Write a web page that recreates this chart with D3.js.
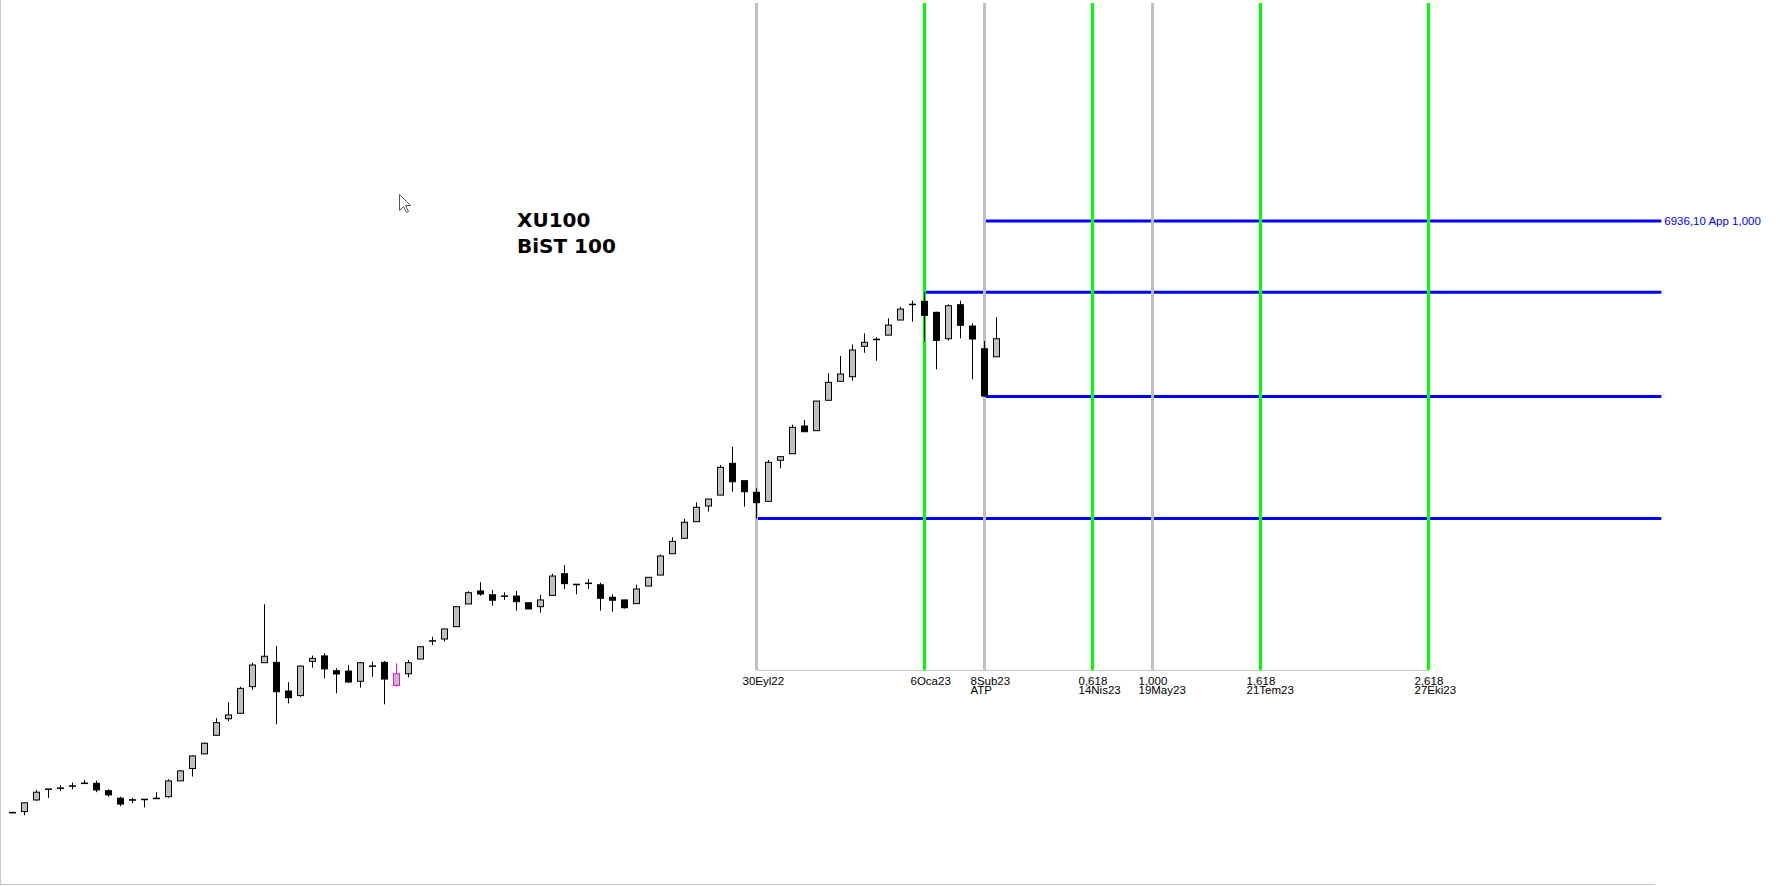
<!DOCTYPE html>
<html>
<head>
<meta charset="utf-8">
<script src="https://d3js.org/d3.v7.min.js"></script>
<style>
  body { margin: 0; background: #fff; }
  svg { display: block; }
</style>
</head>
<body>
<script>
const width = 1780;
const height = 886;

// weekly candles, XU100 (index = week number)
const opens  = [1418,1421,1466,1508,1512,1521,1532,1533,1503,1473,1467,1468,1472,1479,1543,1595,1659,1744,1823,1850,
                1987,2119,2121,1964,1940,2127,2158,2074,2072,2016,2099,2121,1994,2057,2140,2245,2258,2334,2481,2569,
                2543,2533,2534,2489,2463,2539,2691,2615,2621,2612,2526,2508,2483,2603,2681,2839,2959,3094,3227,3323,
                3619,3454,3348,3268,3648,3713,4000,3950,4286,4510,4566,4954,5046,5105,5316,5543,5590,5427,5056,5539,
                5231,4922,4817];
const highs  = [1420,1456,1506,1510,1525,1536,1547,1544,1509,1479,1474,1470,1497,1550,1589,1653,1710,1826,1906,1987,
                2119,2479,2216,2011,2104,2160,2173,2088,2106,2123,2125,2129,2116,2135,2215,2272,2321,2464,2567,2630,
                2576,2560,2569,2491,2543,2691,2754,2617,2653,2627,2546,2509,2612,2667,2832,2967,3119,3259,3290,3602,
                3784,3455,3384,3651,3685,4014,4065,4279,4607,4827,4980,5129,5075,5340,5509,5599,5726,5436,5545,5599,
                5269,5025,5355];
const lows   = [1414,1407,1463,1474,1501,1509,1532,1497,1479,1442,1453,1437,1471,1475,1542,1561,1658,1743,1811,1849,
                1970,2118,1796,1900,1934,2091,2032,1952,2008,1982,2041,1895,1987,2037,2138,2222,2242,2333,2480,2536,
                2470,2508,2437,2447,2424,2538,2583,2546,2583,2437,2430,2450,2482,2602,2680,2838,2958,3093,3178,3322,
                3353,3221,3120,3267,3571,3712,3938,3948,4285,4509,4517,4869,4766,5104,5315,5292,5015,4657,5034,5061,
                4534,4330.1,4816];
const closes = [1417,1455,1497,1510,1514,1523,1534,1506,1486,1450,1465,1469,1473,1543,1585,1650,1707,1804,1842,1978,
                2106,2156,1960,1929,2100,2144,2084,2056,2012,2119,2101,2028,2057,2119,2212,2248,2320,2463,2557,2548,
                2506,2535,2496,2448,2508,2674,2620,2616,2624,2519,2506,2456,2583,2665,2822,2935,3089,3216,3288,3580,
                3444,3353,3256,3629,3684,3986,3939,4277,4497,4599,4905,5007,5049,5245,5475,5547,5383,5034,5524,5241,
                5052,4335,5056];
const highlightBar = 32;

// time markers (week index)
const markerBars  = [62, 76, 81, 90, 95, 104, 118];
const markerKinds = ["gray", "green", "gray", "green", "gray", "green", "green"];
const markerLine1 = ["30Eyl22", "6Oca23", "8Sub23", "0,618", "1,000", "1,618", "2,618"];
const markerLine2 = ["", "", "ATP", "14Nis23", "19May23", "21Tem23", "27Eki23"];

// price levels
const levelValues    = [3120, 5726, 4330.1, 6936.1];
const levelStartBars = [62, 76, 81, 81];
const levelLabels    = ["", "", "", "6936,10 App 1,000"];

const titleLines = ["XU100", "BiST 100"];

const svg = d3.select("body").append("svg")
    .attr("width", width)
    .attr("height", height)
    .style("background", "#fff");

const x = d3.scaleLinear().domain([0, 137.4]).range([12.5, 1661.3]);
const y = d3.scaleLog().domain([1170, 12550]).range([884, 0]);

const baseY = 670;
const lineColor = { gray: "#c0c0c0", green: "#00ff00" };

// frame
svg.append("line").attr("x1", 0.5).attr("x2", 0.5).attr("y1", 0).attr("y2", 884.5)
    .attr("stroke", "#c8c8c8");
svg.append("line").attr("x1", 0).attr("x2", 1655).attr("y1", 884.5).attr("y2", 884.5)
    .attr("stroke", "#c8c8c8");

// blue levels
const levels = levelValues.map((v, i) => ({ v: v, start: levelStartBars[i], label: levelLabels[i] }));
svg.append("g")
  .selectAll("line")
  .data(levels)
  .enter()
  .append("line")
    .attr("x1", d => x(d.start))
    .attr("x2", x.range()[1])
    .attr("y1", d => y(d.v))
    .attr("y2", d => y(d.v))
    .attr("stroke", "#0000ff")
    .attr("stroke-width", 3);

svg.append("g")
  .selectAll("text")
  .data(levels.filter(d => d.label))
  .enter()
  .append("text")
    .attr("x", x.range()[1] + 3)
    .attr("y", d => y(d.v) + 4.5)
    .style("font-family", "'Liberation Sans', Arial, sans-serif")
    .style("font-size", "11.5px")
    .style("fill", "#0000ff")
    .text(d => d.label);

// time markers
const markers = markerBars.map((b, i) => ({ b: b, kind: markerKinds[i], l1: markerLine1[i], l2: markerLine2[i] }));

svg.append("line")
    .attr("x1", x(markerBars[0]))
    .attr("x2", x(markerBars[markerBars.length - 1]))
    .attr("y1", baseY + 0.5)
    .attr("y2", baseY + 0.5)
    .attr("stroke", "#c8c8c8");

svg.append("g")
  .selectAll("line")
  .data(markers)
  .enter()
  .append("line")
    .attr("x1", d => x(d.b))
    .attr("x2", d => x(d.b))
    .attr("y1", 3)
    .attr("y2", baseY)
    .attr("stroke", d => lineColor[d.kind])
    .attr("stroke-width", 3);

const labels = svg.append("g")
    .style("font-family", "'Liberation Sans', Arial, sans-serif")
    .style("font-size", "11.5px")
    .style("fill", "#000");

labels.selectAll("text.l1")
  .data(markers)
  .enter()
  .append("text")
    .attr("class", "l1")
    .attr("x", d => x(d.b) - 14)
    .attr("y", 684.5)
    .text(d => d.l1);

labels.selectAll("text.l2")
  .data(markers.filter(d => d.l2))
  .enter()
  .append("text")
    .attr("class", "l2")
    .attr("x", d => x(d.b) - 14)
    .attr("y", 693.5)
    .text(d => d.l2);

// candles
const bars = closes.map((c, i) => ({ i: i, o: opens[i], h: highs[i], l: lows[i], c: c }));
const bodyW = 6;

const candle = svg.append("g")
  .selectAll("g")
  .data(bars)
  .enter()
  .append("g");

candle.append("line")
    .attr("x1", d => x(d.i))
    .attr("x2", d => x(d.i))
    .attr("y1", d => y(d.h))
    .attr("y2", d => y(d.l))
    .attr("stroke", d => d.i === highlightBar ? "#ff00ff" : "#000")
    .attr("stroke-width", 1);

candle.append("rect")
    .attr("x", d => x(d.i) - bodyW / 2)
    .attr("y", d => y(Math.max(d.o, d.c)))
    .attr("width", bodyW)
    .attr("height", d => Math.max(0.5, y(Math.min(d.o, d.c)) - y(Math.max(d.o, d.c))))
    .attr("fill", d => d.c >= d.o ? "#c0c0c0" : "#000")
    .attr("stroke", d => d.i === highlightBar ? "#ff00ff" : "#000")
    .attr("stroke-width", 1);

// title
svg.append("g")
  .selectAll("text")
  .data(titleLines)
  .enter()
  .append("text")
    .attr("x", 517)
    .attr("y", (d, i) => 227 + i * 26)
    .style("font-family", "'DejaVu Sans', Verdana, sans-serif")
    .style("font-weight", "bold")
    .style("font-size", "20px")
    .style("fill", "#000")
    .text(d => d);

// mouse pointer left in the screenshot
svg.append("path")
    .attr("transform", "translate(399.5,194.5)")
    .attr("d", "M0,0 L0,16 L4,12 L7,18 L9,17 L6,11 L11,11 Z")
    .attr("fill", "#fff")
    .attr("stroke", "#555")
    .attr("stroke-width", 1);
</script>
</body>
</html>
